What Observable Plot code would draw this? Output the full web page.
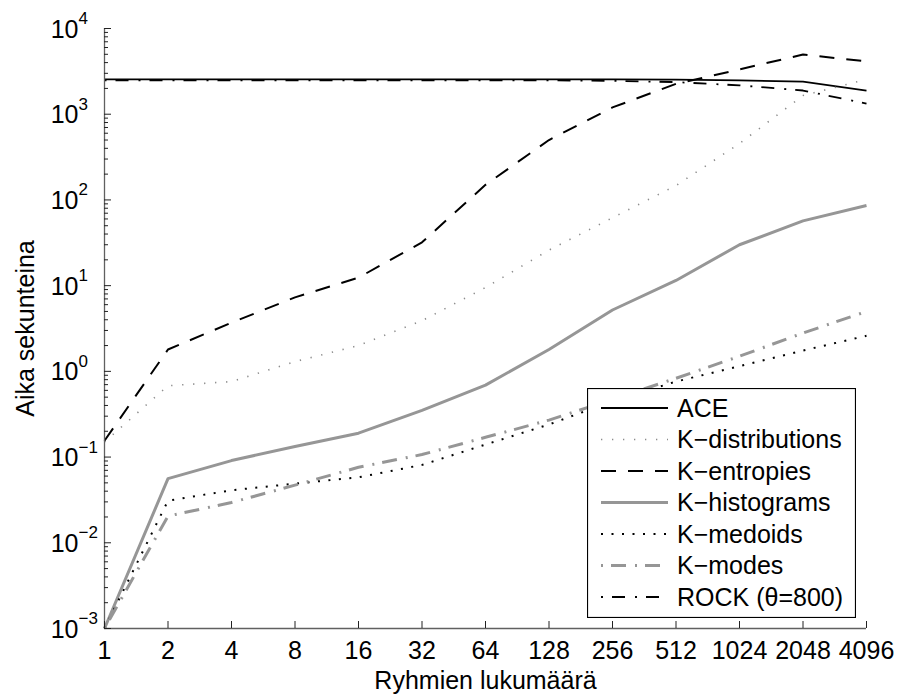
<!DOCTYPE html>
<html><head><meta charset="utf-8">
<script src="https://cdn.jsdelivr.net/npm/d3@7"></script>
<script src="https://cdn.jsdelivr.net/npm/@observablehq/plot@0.6"></script>
<style>
body{margin:0;background:#fff}
#wrap{position:relative;width:900px;height:697px;font-family:"Liberation Sans",Arial,Helvetica,sans-serif}
#legend{position:absolute;left:587px;top:388px}
</style>
</head><body><div id="wrap"></div>
<script>
// ---- data ----
const groups = [1, 2, 4, 8, 16, 32, 64, 128, 256, 512, 1024, 2048, 4096];
const xTickLabels = ["1","2","4","8","16","32","64","128","256","512","1024","2048","4096"];
const seriesNames = ["ACE", "K\u2212distributions", "K\u2212entropies", "K\u2212histograms", "K\u2212medoids", "K\u2212modes", "ROCK (\u03b8=800)"];
const ACE        = [2550, 2550, 2550, 2550, 2550, 2550, 2550, 2550, 2550, 2530, 2480, 2400, 1890];
const KDist      = [0.15, 0.68, 0.76, 1.3, 2.0, 3.9, 9.5, 26, 62, 147, 455, 1650, 2550];
const KEntropies = [0.155, 1.8, 3.7, 7.3, 12.4, 32, 150, 500, 1200, 2260, 3330, 4970, 4140];
const KHist      = [0.001, 0.056, 0.091, 0.133, 0.19, 0.35, 0.69, 1.8, 5.2, 11.5, 30, 57, 86];
const KMedoids   = [0.001, 0.031, 0.041, 0.049, 0.058, 0.081, 0.14, 0.24, 0.45, 0.76, 1.15, 1.75, 2.6];
const KModes     = [0.001, 0.0205, 0.0295, 0.047, 0.076, 0.107, 0.17, 0.27, 0.47, 0.83, 1.5, 2.8, 5.0];
const ROCK       = [2490, 2490, 2490, 2490, 2490, 2490, 2490, 2480, 2450, 2370, 2170, 1890, 1330];
const yDecades   = [1e-3, 1e-2, 1e-1, 1e0, 1e1, 1e2, 1e3, 1e4];
const yExponents = ["\u22123", "\u22122", "\u22121", "0", "1", "2", "3", "4"];
const xLabel = "Ryhmien lukumäärä";
const yLabel = "Aika sekunteina";

// ---- styles ----
const seriesValues = [ACE, KDist, KEntropies, KHist, KMedoids, KModes, ROCK];
const lineStyles = [
  {stroke: "#000", strokeWidth: 1.8, dash: null},
  {stroke: "#8c8c8c", strokeWidth: 1.6, dash: "1.3,9.7"},
  {stroke: "#000", strokeWidth: 2, dash: "15,12"},
  {stroke: "#969696", strokeWidth: 3, dash: null},
  {stroke: "#000", strokeWidth: 2, dash: "2,8.5"},
  {stroke: "#969696", strokeWidth: 3, dash: "2,8,15,9"},
  {stroke: "#000", strokeWidth: 1.8, dash: "2,9,13,10"}
];
const FONT = '"Liberation Sans", Arial, Helvetica, sans-serif';

const table = seriesNames.map((name, i) => groups.map((g, j) => ({series: name, x: g, y: seriesValues[i][j]})));
const minorTicks = yDecades.slice(0, -1).flatMap(d => [2,3,4,5,6,7,8,9].map(k => k * d));

const lineMarks = table.map((rows, i) => Plot.lineY(rows, {
  x: "x", y: "y",
  stroke: lineStyles[i].stroke,
  strokeWidth: lineStyles[i].strokeWidth,
  strokeDasharray: lineStyles[i].dash,
  strokeLinecap: "butt"
}));

const chart = Plot.plot({
  width: 900, height: 697,
  marginLeft: 104, marginRight: 34, marginTop: 28, marginBottom: 69,
  style: {fontFamily: FONT, fontSize: "25px", color: "#000", background: "#fff"},
  x: {type: "log", base: 2, domain: [1, 4096]},
  y: {type: "log", domain: [1e-3, 1e4]},
  marks: [
    ...lineMarks,
    Plot.ruleY([1e-3], {stroke: "#606060", strokeWidth: 1.3}),
    Plot.ruleX([1], {stroke: "#606060", strokeWidth: 1.3}),
    Plot.axisX({ticks: groups, tickSize: -7, tickFormat: () => "", stroke: "#222", label: null}),
    Plot.axisX({ticks: groups, tickSize: 0, tickPadding: 13, tickFormat: d => xTickLabels[groups.indexOf(d)], fontSize: 25, fill: "#000", label: null}),
    Plot.axisY({ticks: minorTicks, tickSize: -4, tickFormat: () => "", stroke: "#222", label: null}),
    Plot.axisY({ticks: yDecades, tickSize: -7, tickFormat: () => "", stroke: "#222", label: null}),
    Plot.text(yDecades, {x: 1, y: d => d, text: () => "10", textAnchor: "end", dx: -26, dy: 1, fontSize: 25, fill: "#000"}),
    Plot.text(yDecades, {x: 1, y: d => d, text: (d, i) => yExponents[i], textAnchor: "start", dx: -26, dy: -10, fontSize: 17, fill: "#000"}),
    Plot.text([xLabel], {frameAnchor: "bottom", textAnchor: "middle", lineAnchor: "bottom", dy: 60, fontSize: 25, fill: "#000"}),
    Plot.text([yLabel], {frameAnchor: "left", textAnchor: "middle", lineAnchor: "bottom", rotate: -90, dx: -71, fontSize: 25, fill: "#000"})
  ]
});

const wrap = document.getElementById("wrap");
wrap.appendChild(chart);

// ---- legend (inside the axes, lower right) ----
const LW = 268, LH = 229;
const legend = d3.select(wrap).append("svg").attr("id", "legend")
  .attr("width", LW + 1).attr("height", LH + 1);
legend.append("rect").attr("x", 0.5).attr("y", 0.5).attr("width", LW).attr("height", LH)
  .attr("fill", "#fff").attr("stroke", "#000").attr("stroke-width", 1.2);
seriesNames.forEach((name, i) => {
  const cy = 20 + 31.5 * i;
  const st = lineStyles[i];
  legend.append("line").attr("x1", 14).attr("x2", 81).attr("y1", cy).attr("y2", cy)
    .attr("stroke", st.stroke).attr("stroke-width", st.strokeWidth)
    .attr("stroke-dasharray", st.dash).attr("stroke-linecap", "butt");
  legend.append("text").attr("x", 90).attr("y", cy).attr("dy", "0.35em")
    .attr("font-family", FONT).attr("font-size", 25).attr("fill", "#000").text(name);
});
</script>
</body></html>
